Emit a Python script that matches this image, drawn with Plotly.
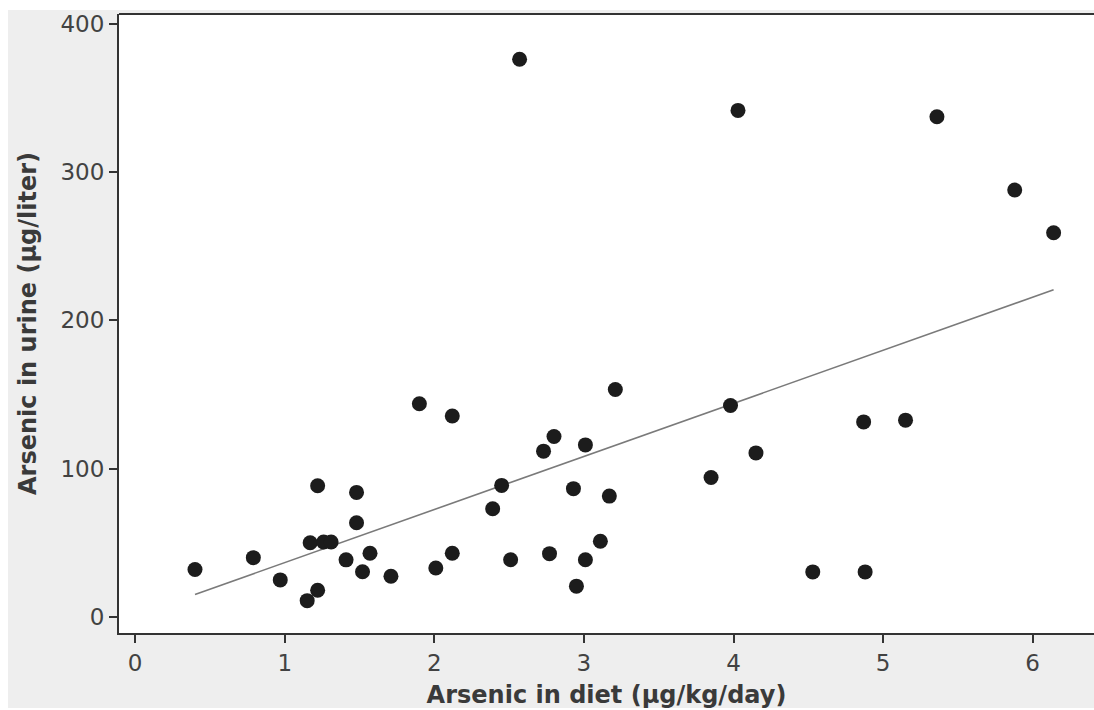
import numpy as np
import plotly.graph_objects as go

# Data
diet_intake = [0.40, 0.79, 0.97, 1.15, 1.22, 1.22, 1.17, 1.26, 1.31, 1.41,
               1.48, 1.48, 1.52, 1.57, 1.71, 1.90, 2.12, 2.01, 2.12, 2.39,
               2.45, 2.51, 2.57, 2.73, 2.80, 2.77, 2.93, 2.95, 3.01, 3.01,
               3.11, 3.17, 3.21, 3.85, 3.98, 4.03, 4.15, 4.53, 4.87, 4.88,
               5.15, 5.36, 5.88, 6.14]
urine_conc = [32, 40, 25, 11, 18, 88.5, 50, 50.5, 50.5, 38.5,
              84, 63.5, 30.5, 43, 27.5, 143.7, 135.5, 33, 43, 73,
              88.7, 38.6, 376, 111.8, 121.7, 42.7, 86.5, 20.8, 116, 38.6,
              51.1, 81.5, 153.4, 94, 142.6, 341.5, 110.6, 30.4, 131.5, 30.4,
              132.7, 337.2, 287.8, 259]
x_ticks = [0, 1, 2, 3, 4, 5, 6]
y_ticks = [0, 100, 200, 300, 400]

x_arr = np.array(diet_intake)
y_arr = np.array(urine_conc)
slope, intercept = np.polyfit(x_arr, y_arr, 1)
fit_x = np.array([x_arr.min(), x_arr.max()])
fit_y = intercept + slope * fit_x

fig = go.Figure()
fig.add_trace(go.Scatter(x=fit_x, y=fit_y, mode="lines",
                         line=dict(color="#7a7a7a", width=1.6),
                         hoverinfo="skip", showlegend=False))
fig.add_trace(go.Scatter(x=diet_intake, y=urine_conc, mode="markers",
                         marker=dict(color="#1c1c1c", size=15, line=dict(width=0)),
                         showlegend=False))

tick_font = dict(family="DejaVu Sans", size=23, color="#424242")
title_font = dict(family="DejaVu Sans", size=24, color="#3a3a3a", weight="bold")

fig.update_layout(
    width=1094, height=710,
    margin=dict(l=119, r=0, t=14, b=77, autoexpand=False),
    paper_bgcolor="#ffffff",
    plot_bgcolor="#ffffff",
    showlegend=False,
    xaxis=dict(range=[-0.108, 6.41], tickvals=x_ticks, ticktext=[str(t) for t in x_ticks],
               showgrid=False, zeroline=False, showline=True, linecolor="#333333", linewidth=2,
               ticks="outside", ticklen=8, tickwidth=2, tickcolor="#333333",
               tickfont=tick_font,
               title=dict(text="Arsenic in diet (µg/kg/day)", font=title_font, standoff=12)),
    yaxis=dict(range=[-10.8, 406.5], tickvals=y_ticks, ticktext=[str(t) for t in y_ticks],
               showgrid=False, zeroline=False, showline=True, linecolor="#333333", linewidth=2,
               ticks="outside", ticklen=8, tickwidth=2, tickcolor="#333333",
               tickfont=tick_font,
               title=dict(text="Arsenic in urine (µg/liter)", font=title_font, standoff=17)),
    shapes=[
        dict(type="rect", xref="paper", yref="paper", x0=-0.1138, x1=1.01,
             y0=-0.1212, y1=1.0065, fillcolor="#eeeeee", line=dict(width=0), layer="below"),
        dict(type="rect", xref="paper", yref="paper", x0=0, x1=1.01, y0=0, y1=1,
             fillcolor="#ffffff", line=dict(width=0), layer="below"),
        dict(type="line", xref="paper", yref="paper", x0=0, x1=1.01, y0=1, y1=1,
             line=dict(color="#333333", width=2)),
    ],
)

fig.write_html(
    "out.html",
    config={"displayModeBar": False},
    post_script="document.documentElement.style.overflow='hidden';"
                "document.body.style.margin='0';document.body.style.overflow='hidden';",
)
